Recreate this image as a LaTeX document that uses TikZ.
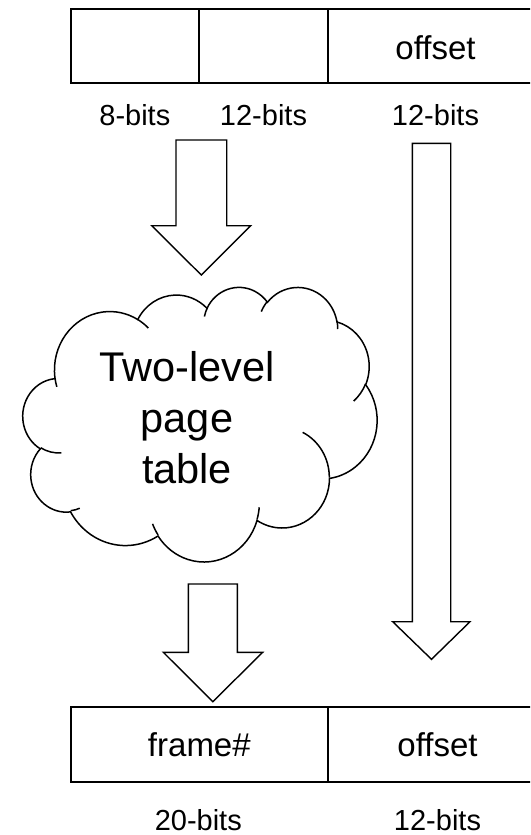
\documentclass[tikz,border=0pt]{standalone}
\usepackage{fontspec}
\setmainfont{Liberation Sans}
\begin{document}
\begin{tikzpicture}[x=1pt, y=-1pt,
  % geometric angle on an ellipse -> parametric angle used by TikZ arcs
  declare function={cpa(\ra,\rb,\ang)=atan2(\ra*sin(\ang),\rb*cos(\ang));},
  cellbox/.style={draw=black, line width=1.7pt, minimum height=74pt, inner sep=0pt, fill=white},
  bitlabel/.style={font=\fontsize{29}{34}\selectfont, inner sep=0pt, anchor=base},
  celltext/.style={font=\fontsize{33}{39}\selectfont, inner sep=0pt, anchor=base},
  blockarrow/.style={draw=black, line width=1.4pt, line join=miter, fill=white},
  cloudline/.style={draw=black, line width=1.5pt},
  carc/.style n args={4}{x radius=#1, y radius=#2,
    start angle={cpa(#1,#2,#3)},
    delta angle={mod(cpa(#1,#2,#3+#4)-cpa(#1,#2,#3)+720,360)}}
]
\useasboundingbox (0,0) rectangle (530,835);
\fill[white] (0,0) rectangle (530,835);
\clip (0,0) rectangle (530,835);

% virtual address: 8 | 12 | 12 bits
\node[cellbox, minimum width=128.3pt] (va) at (134.85,46.3) {};
\node[cellbox, minimum width=129pt]   (vb) at (263.5,46.3) {};
\node[cellbox, minimum width=217pt]   (vc) at (436.5,46.3) {};
\node[celltext] (vctext) at (435.5,59.5) {offset};

\node[bitlabel] (la) at (134.85,125) {8-bits};
\node[bitlabel] (lb) at (263.5,125) {12-bits};
\node[bitlabel] (lc) at (435.5,125) {12-bits};

% physical address: frame# | offset
\node[cellbox, minimum width=257.3pt, minimum height=75pt] (pa) at (199.35,744.2) {};
\node[cellbox, minimum width=217pt, minimum height=75pt]   (pb) at (436.5,744.2) {};
\node[celltext] (patext) at (199.35,756.5) {frame\#};
\node[celltext] (pbtext) at (437.5,756.5) {offset};

\node[bitlabel] (ld) at (198.3,830.5) {20-bits};
\node[bitlabel] (le) at (437.5,830.5) {12-bits};

% block arrows
\draw[blockarrow] (176,140) -- (226.7,140) -- (226.7,225.7) -- (250.7,225.7)
  -- (201.3,275) -- (151.7,225.7) -- (176,225.7) -- cycle;
\draw[blockarrow] (412.3,143.3) -- (450.7,143.3) -- (450.7,621.7) -- (470,621.7)
  -- (431.5,659.3) -- (392.7,621.7) -- (412.3,621.7) -- cycle;
\draw[blockarrow] (188.3,584) -- (237.3,584) -- (237.3,652.3) -- (262.7,652.3)
  -- (212.8,701.7) -- (163.3,652.3) -- (188.3,652.3) -- cycle;

% cloud outline (unit box 432 x 432)
\begin{scope}[shift={(23,286.5)}, x=0.81944pt, y=-0.63542pt]
\draw[cloudline, fill=white] (39.00,143.70)
  arc[carc={67.53}{91.90}{-190.4875}{123.7805}]
  arc[carc={53.33}{72.67}{-144.1024}{89.9452}]
  arc[carc={43.65}{59.45}{-145.8079}{99.7230}]
  arc[carc={48.57}{65.95}{-130.9861}{117.2417}]
  arc[carc={53.33}{72.73}{-78.7089}{109.0269}]
  arc[carc={67.75}{92.20}{-46.2673}{130.2690}]
  arc[carc={57.85}{78.67}{0.6250}{114.0333}]
  arc[carc={67.52}{92.15}{22.4516}{115.1726}]
  arc[carc={77.20}{105.43}{66.2426}{75.7110}]
  arc[carc={43.60}{59.18}{-274.9421}{146.7356}]
  arc[carc={43.45}{59.45}{-246.8285}{152.5189}]
  -- cycle;
% lobe ends running into the cloud
\draw[cloudline]
  (46.93,261.77) arc[carc={43.45}{59.45}{86.7420}{26.4295}]
  (69.28,348.99) arc[carc={43.60}{59.18}{73.6105}{11.4475}]
  (164.78,390.90) arc[carc={67.52}{92.15}{137.6242}{14.0811}]
  (288.27,347.51) arc[carc={67.52}{92.15}{6.4533}{15.9984}]
  (341.29,229.54) arc[carc={57.85}{78.67}{-70.2924}{70.9174}]
  (417.98,153.54) arc[carc={53.33}{72.73}{30.3180}{27.7515}]
  (383.24,54.26) arc[carc={48.57}{65.95}{-13.7443}{14.8589}]
  (290.78,39.52) arc[carc={48.57}{65.95}{-149.1815}{18.1954}]
  (221.41,47.20) arc[carc={43.65}{59.45}{-163.4943}{17.6864}]
  (140.00,51.92) arc[carc={67.53}{91.90}{-66.7070}{12.3194}]
  (41.27,157.89) arc[carc={67.53}{91.90}{157.6544}{11.8582}];
\end{scope}

\node[font=\fontsize{41.5}{50.8}\selectfont, align=center, inner sep=0pt] (ptable)
  at (187,417.6) {Two-level\\page\\table};
\end{tikzpicture}
\end{document}
